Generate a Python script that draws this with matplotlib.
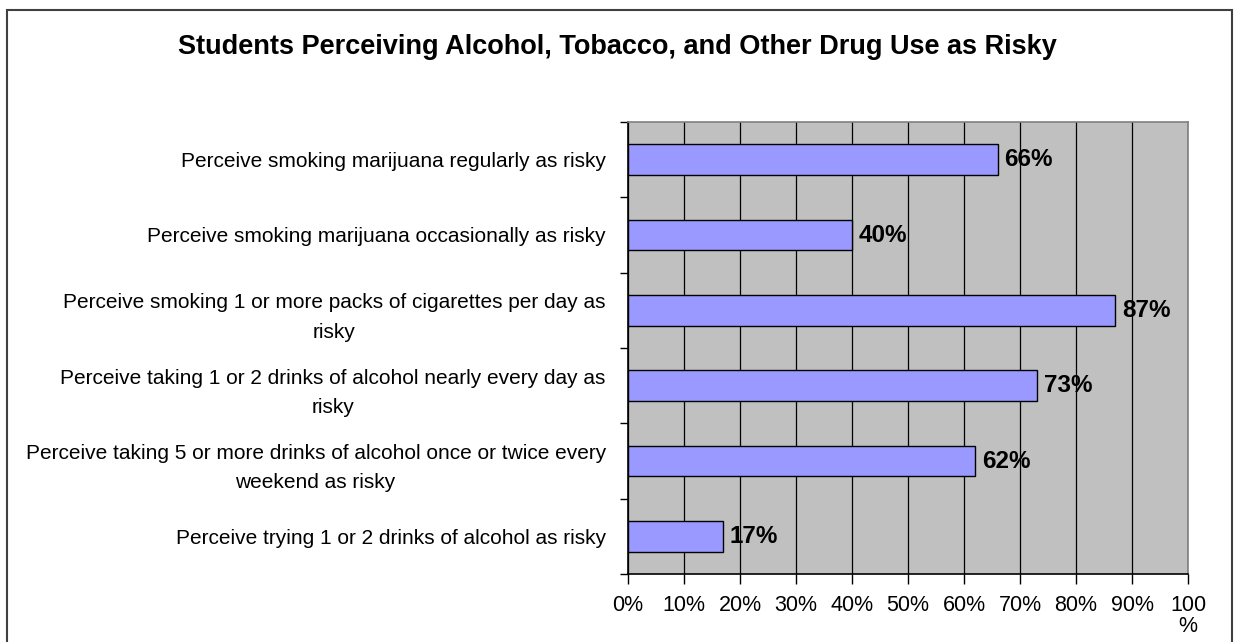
import numpy as np
from matplotlib import pyplot as plt
from matplotlib.patches import Rectangle

categories = [
    "Perceive smoking marijuana regularly as risky",
    "Perceive smoking marijuana occasionally as risky",
    "Perceive smoking 1 or more packs of cigarettes per day as\nrisky",
    "Perceive taking 1 or 2 drinks of alcohol nearly every day as\nrisky",
    "Perceive taking 5 or more drinks of alcohol once or twice every\nweekend as risky",
    "Perceive trying 1 or 2 drinks of alcohol as risky",
]
values = [66, 40, 87, 73, 62, 17]
value_labels = ["66%", "40%", "87%", "73%", "62%", "17%"]
x_ticks = [0, 10, 20, 30, 40, 50, 60, 70, 80, 90, 100]
x_tick_labels = ["0%", "10%", "20%", "30%", "40%", "50%", "60%", "70%", "80%", "90%", "100\n%"]

plt.rcParams['font.family'] = ['Liberation Sans', 'DejaVu Sans']

fig = plt.figure(figsize=(12.35, 6.42), dpi=100)
ax = fig.add_axes([628 / 1235, 1 - 574 / 642, 560 / 1235, 452 / 642])

# figure frame
fig.patches.append(Rectangle((7 / 1235, -0.05), 1225 / 1235, 1.05 - 10 / 642,
                             transform=fig.transFigure, fill=False,
                             edgecolor='#404040', linewidth=1.5, clip_on=False))

n = len(categories)
ypos = np.arange(n)
ax.set_facecolor('#C0C0C0')
ax.barh(ypos, values, height=0.41, color='#9999FF', edgecolor='black', linewidth=1, zorder=3)

for y, v, lab in zip(ypos, values, value_labels):
    ax.text(v + 1.2, y, lab, va='center', ha='left', fontsize=17.5, fontweight='bold', zorder=4)

ax.set_xlim(0, 100)
ax.set_ylim(n - 0.5, -0.5)
ax.set_xticks(x_ticks)
ax.set_xticklabels(x_tick_labels, fontsize=15.5, linespacing=1.0, va='top')
ax.xaxis.grid(True, color='black', linewidth=0.9, zorder=1)
ax.set_axisbelow(True)

ax.set_yticks(ypos)
ax.set_yticklabels(categories, fontsize=15, multialignment='center', linespacing=1.7)
ax.tick_params(axis='y', length=0, pad=16)
ax.set_yticks(np.arange(n + 1) - 0.5, minor=True)
ax.tick_params(axis='y', which='minor', length=6, width=1, direction='out')
ax.tick_params(axis='x', length=7, width=1, direction='out', pad=8)

for side in ['top', 'right']:
    ax.spines[side].set_color('#808080')
    ax.spines[side].set_linewidth(1.2)
for side in ['left', 'bottom']:
    ax.spines[side].set_color('black')
    ax.spines[side].set_linewidth(1.2)

fig.text(617 / 1235, 1 - 47 / 642, "Students Perceiving Alcohol, Tobacco, and Other Drug Use as Risky",
         ha='center', va='center', fontsize=19.5, fontweight='bold')

fig.savefig("out.png", dpi=100)
